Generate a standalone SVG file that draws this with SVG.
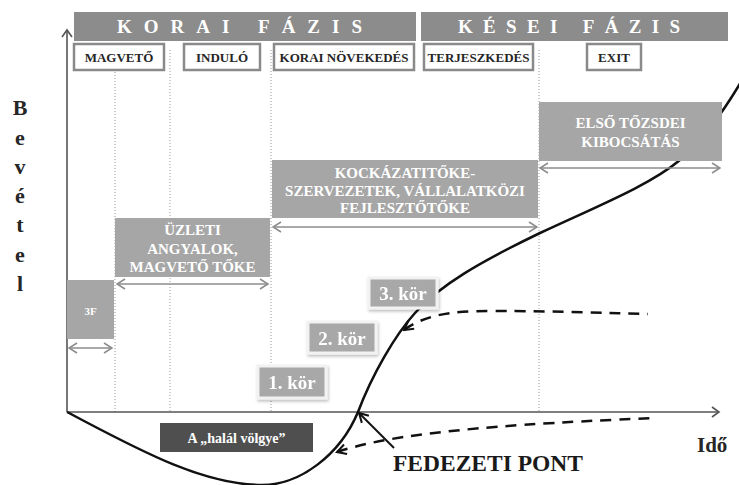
<svg xmlns="http://www.w3.org/2000/svg" width="739" height="485" viewBox="0 0 739 485">
<defs>
<style>
.serif{font-family:"Liberation Serif","Times New Roman",serif;font-weight:bold}
.banner{fill:#8c8c8c}
.bantxt{fill:#ffffff;font-size:19px}
.sub{fill:#ffffff;stroke:#8a8a8a;stroke-width:2.5}
.subtxt{fill:#262626;font-size:13px;text-anchor:middle}
.gbox{fill:#a6a6a6}
.gtxt{fill:#ffffff;font-size:15px;text-anchor:middle}
.kbox{fill:#a8a8a8;stroke:#f2f2f2;stroke-width:3}
.ktxt{fill:#ffffff;font-size:19px;text-anchor:middle}
.dot{stroke:#9a9a9a;stroke-width:1;stroke-dasharray:1 2;fill:none}
.span{stroke:#8c8c8c;stroke-width:1.5;fill:none;marker-start:url(#ga);marker-end:url(#ga)}
.axis{stroke:#555555;stroke-width:1.6;fill:none}
.curve{stroke:#111111;stroke-width:2.5;fill:none}
.dash{stroke:#111111;stroke-width:2.5;fill:none;stroke-dasharray:11 8}
.ylab{fill:#262626;font-size:22px;text-anchor:middle}
</style>
<marker id="ga" viewBox="0 0 12 12" refX="11" refY="6" markerWidth="12" markerHeight="12" markerUnits="userSpaceOnUse" orient="auto-start-reverse">
<path d="M3,1 L11,6 L3,11" fill="none" stroke="#8c8c8c" stroke-width="1.5"/>
</marker>
<marker id="xa" viewBox="0 0 14 14" refX="12" refY="7" markerWidth="14" markerHeight="14" markerUnits="userSpaceOnUse" orient="auto">
<path d="M5,2 L12,7 L5,12" fill="none" stroke="#555555" stroke-width="1.6"/>
</marker>
<marker id="ba" viewBox="0 0 14 14" refX="12" refY="7" markerWidth="14" markerHeight="14" markerUnits="userSpaceOnUse" orient="auto-start-reverse">
<path d="M3,2 L12,7 L3,12" fill="none" stroke="#111111" stroke-width="2"/>
</marker>
<filter id="sh" x="-20%" y="-20%" width="140%" height="150%">
<feDropShadow dx="1" dy="2" stdDeviation="1.5" flood-color="#000000" flood-opacity="0.25"/>
</filter>
</defs>

<g id="guides">
<line class="dot" x1="115" y1="72" x2="115" y2="412"/>
<line class="dot" x1="170" y1="50" x2="170" y2="412"/>
<line class="dot" x1="271" y1="50" x2="271" y2="412"/>
<line class="dot" x1="539" y1="50" x2="539" y2="412"/>
</g>

<g id="axes">
<line class="axis" x1="67" y1="412" x2="67" y2="30" marker-end="url(#xa)"/>
<line class="axis" x1="67" y1="412" x2="719" y2="412" marker-end="url(#xa)"/>
</g>

<g id="connectors">
<path id="revenue-curve" class="curve" d="M67,412 C130,445 200,485 262,485 C300,485 340,455 358,412 C372,375 395,335 415,313 C440,285 480,262 540,233 C600,205 650,185 680,160 C705,138 725,110 745,75"/>
<path id="upper-dash" class="dash" d="M404,330 C425,315 450,311 490,311 C560,311 600,313 648,314" marker-start="url(#ba)"/>
<path id="lower-dash" class="dash" d="M337,452 C380,438 450,426 657,418" marker-start="url(#ba)"/>
<line id="bep-arrow" x1="394" y1="448" x2="359" y2="413" stroke="#111111" stroke-width="2" marker-end="url(#ba)"/>
<line class="span" x1="69" y1="348" x2="112" y2="348"/>
<line class="span" x1="117" y1="284" x2="268" y2="284"/>
<line class="span" x1="273" y1="227" x2="537" y2="227"/>
<line class="span" x1="540" y1="168" x2="720" y2="168"/>
</g>

<g id="korai-fazis">
<rect class="banner" x="74" y="12" width="342" height="29"/>
<text class="serif bantxt" x="117" y="33" textLength="245" lengthAdjust="spacing">KORAI FÁZIS</text>
</g>
<g id="kesei-fazis">
<rect class="banner" x="421" y="12" width="307" height="29"/>
<text class="serif bantxt" x="458" y="33" textLength="222" lengthAdjust="spacing">KÉSEI FÁZIS</text>
</g>

<g id="magveto">
<rect class="sub" x="74" y="44" width="90" height="26"/>
<text class="serif subtxt" x="119" y="62">MAGVETŐ</text>
</g>
<g id="indulo">
<rect class="sub" x="184" y="44" width="76" height="26"/>
<text class="serif subtxt" x="222" y="62">INDULÓ</text>
</g>
<g id="korai-novekedes">
<rect class="sub" x="274" y="44" width="140" height="26"/>
<text class="serif subtxt" x="344" y="62">KORAI NÖVEKEDÉS</text>
</g>
<g id="terjeszkedes">
<rect class="sub" x="424" y="44" width="109" height="26"/>
<text class="serif subtxt" x="478.5" y="62">TERJESZKEDÉS</text>
</g>
<g id="exit">
<rect class="sub" x="587" y="44" width="54" height="26"/>
<text class="serif subtxt" x="614" y="62">EXIT</text>
</g>

<g id="bevetel">
<text class="serif ylab" x="20" y="115">B</text>
<text class="serif ylab" x="20" y="145">e</text>
<text class="serif ylab" x="20" y="174">v</text>
<text class="serif ylab" x="20" y="203">é</text>
<text class="serif ylab" x="20" y="232">t</text>
<text class="serif ylab" x="20" y="262">e</text>
<text class="serif ylab" x="20" y="291">l</text>
</g>

<g id="box-3f">
<rect class="gbox" x="67" y="280" width="47" height="59"/>
<text class="serif gtxt" x="90.5" y="315" style="font-size:11px">3F</text>
</g>
<g id="box-angyalok">
<rect class="gbox" x="115" y="218" width="155" height="59"/>
<text class="serif gtxt" x="192.5" y="235">ÜZLETI</text>
<text class="serif gtxt" x="192.5" y="253.5">ANGYALOK,</text>
<text class="serif gtxt" x="192.5" y="272">MAGVETŐ TŐKE</text>
</g>
<g id="box-kockazati">
<rect class="gbox" x="272" y="160" width="266" height="58"/>
<text class="serif gtxt" x="405" y="178">KOCKÁZATITŐKE-</text>
<text class="serif gtxt" x="405" y="195.5">SZERVEZETEK, VÁLLALATKÖZI</text>
<text class="serif gtxt" x="405" y="213">FEJLESZTŐTŐKE</text>
</g>
<g id="box-ipo">
<rect class="gbox" x="539" y="102" width="183" height="59"/>
<text class="serif gtxt" x="630.5" y="128">ELSŐ TŐZSDEI</text>
<text class="serif gtxt" x="630.5" y="147">KIBOCSÁTÁS</text>
</g>

<g id="kor-1" filter="url(#sh)">
<rect class="kbox" x="258" y="366" width="68" height="32"/>
<text class="serif ktxt" x="292" y="389">1. kör</text>
</g>
<g id="kor-2" filter="url(#sh)">
<rect class="kbox" x="308" y="322" width="68" height="31"/>
<text class="serif ktxt" x="342" y="345">2. kör</text>
</g>
<g id="kor-3" filter="url(#sh)">
<rect class="kbox" x="369" y="278" width="68" height="30"/>
<text class="serif ktxt" x="403" y="300">3. kör</text>
</g>

<g id="halal-volgye">
<rect x="160" y="423" width="153" height="29" fill="#4f4f4f"/>
<text class="serif" x="236.5" y="443" fill="#ffffff" font-size="14" text-anchor="middle">A „halál völgye”</text>
</g>

<g id="fedezeti-pont">
<text class="serif" x="393" y="471" fill="#1a1a1a" font-size="24" textLength="190" lengthAdjust="spacingAndGlyphs">FEDEZETI PONT</text>
</g>
<g id="ido">
<text class="serif" x="697" y="452" fill="#262626" font-size="21">Idő</text>
</g>
</svg>
